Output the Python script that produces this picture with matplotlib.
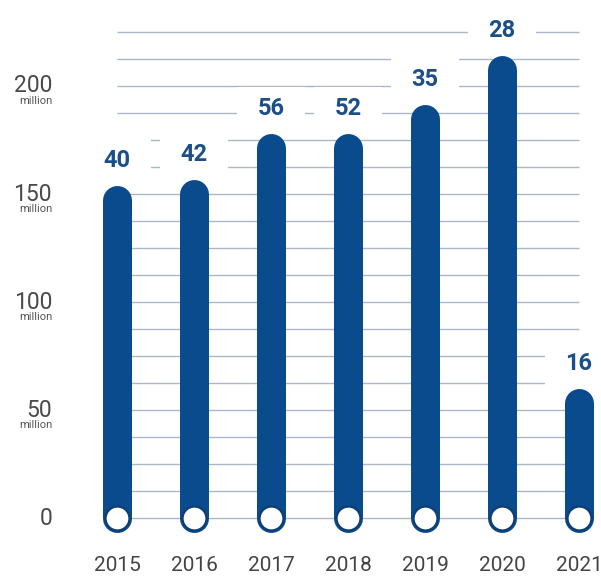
import matplotlib.pyplot as plt
import matplotlib.transforms as mtransforms
from matplotlib.patches import Rectangle

years = ['2015', '2016', '2017', '2018', '2019', '2020', '2021']
values = [154, 156.5, 178, 178, 191.5, 214, 60]   # million
labels = ['40', '42', '56', '52', '35', '28', '16']
ytick_vals = [0, 50, 100, 150, 200]
grid_vals = [i * 12.5 for i in range(19)]

bar_color = '#0a4b8e'
text_color = '#1c4f88'
grid_color = '#a9b7c7'

plt.rcParams['font.family'] = ['Roboto', 'DejaVu Sans']

fig = plt.figure(figsize=(6.01, 5.79), dpi=100)
ax = fig.add_axes([0, 0, 1, 1])
ax.set_xlim(-1.52, 6.286)
ax.set_ylim(-28.2, 239.8)
ax.axis('off')

x = list(range(len(years)))

# grid lines from first to last bar
ax.hlines(grid_vals, 0, len(years) - 1, color=grid_color, lw=1, zorder=1)

# bar width in px -> points; cap radius in data units
bar_px = 29
lw_pt = bar_px * 72 / fig.dpi
p0 = ax.transData.transform((0, 0))[1]
p1 = ax.transData.transform((0, 1))[1]
r_data = (bar_px / 2) / (p1 - p0)

for xi, v, lab in zip(x, values, labels):
    ax.plot([xi, xi], [0, v - r_data], color=bar_color, lw=lw_pt,
            solid_capstyle='round', zorder=3)
    # white box hiding grid lines behind the label
    tr = fig.dpi_scale_trans + mtransforms.ScaledTranslation(xi, v, ax.transData)
    ax.add_patch(Rectangle((-0.34, 0.25 - 0.22), 0.68, 0.44, transform=tr,
                           facecolor='white', edgecolor='none', zorder=2))
    ax.annotate(lab, (xi, v), xytext=(0, 18), textcoords='offset points',
                ha='center', va='center', fontsize=17, fontweight='bold',
                color=text_color, zorder=4)

ax.scatter(x, [0] * len(x), s=300, facecolor='white', edgecolor='#0d3f75',
           linewidth=1.7, zorder=5)

# y labels
ytr = mtransforms.blended_transform_factory(ax.transAxes, ax.transData)
mil_tr = ytr + mtransforms.ScaledTranslation(0, -0.1, fig.dpi_scale_trans)
for yv in ytick_vals:
    ax.text(52 / 601, yv, str(yv), transform=ytr, ha='right', va='center',
            fontsize=16.5, color='#4a4a4a')
    if yv > 0:
        ax.text(52 / 601, yv, 'million', transform=mil_tr, ha='right', va='top',
                fontsize=8, color='#555555')

# year labels
xtr = mtransforms.blended_transform_factory(ax.transData, ax.transAxes)
for xi, yr in zip(x, years):
    ax.text(xi, 4 / 579, yr, transform=xtr, ha='center', va='bottom',
            fontsize=15, color='#444444')

fig.savefig('out.png', dpi=100)
